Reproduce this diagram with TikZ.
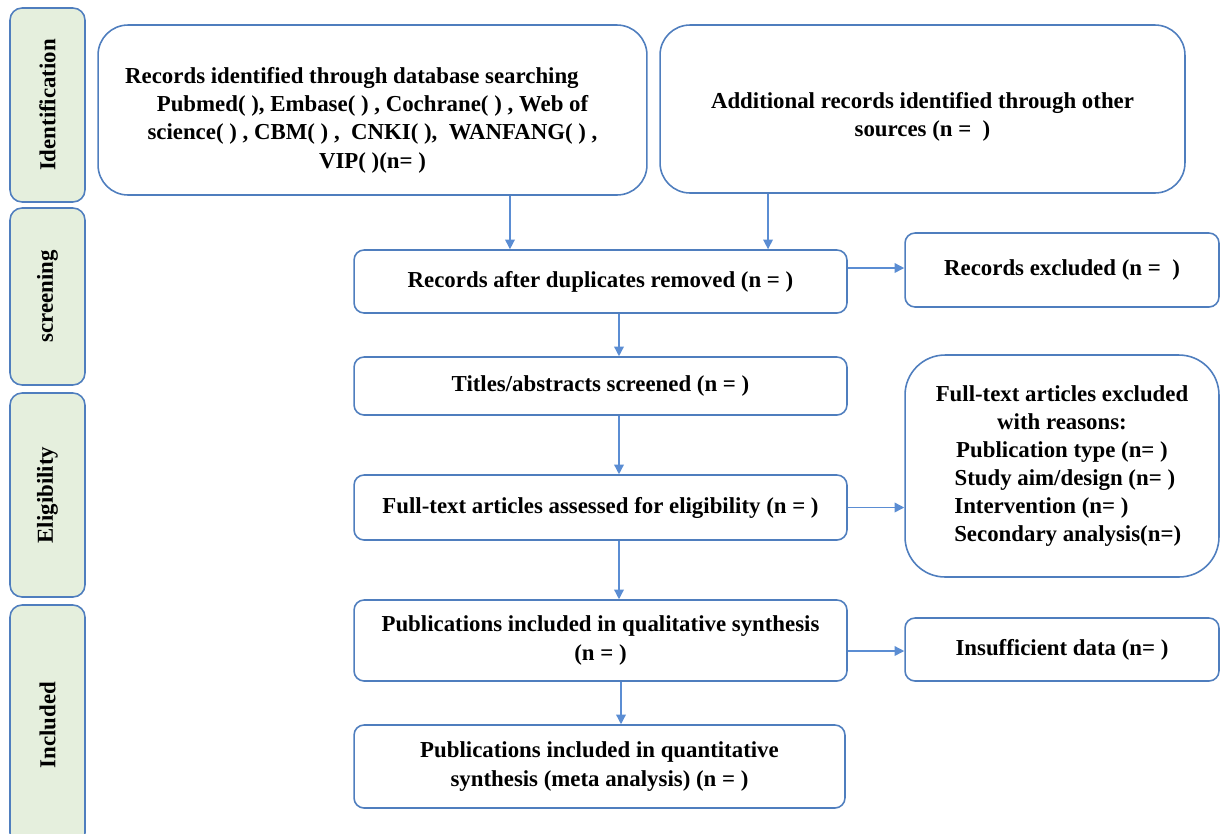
\documentclass[tikz,border=0pt]{standalone}
\usepackage{fontspec}
\setmainfont{Liberation Serif}
\usetikzlibrary{arrows.meta}
\definecolor{boxblue}{HTML}{4F7EBE}
\definecolor{arrblue}{HTML}{5B8DD3}
\definecolor{phasegreen}{HTML}{E5EFDD}

\begin{document}
\begin{tikzpicture}[x=0.02cm,y=-0.02cm,
  every node/.style={font=\fontsize{13}{16}\selectfont\bfseries,align=center,inner sep=0pt},
  phase/.style={draw=boxblue,line width=0.9pt,fill=phasegreen,rounded corners=0.24cm,minimum height=1.5cm,rotate=90},
  box/.style={draw=boxblue,line width=0.9pt,rounded corners=0.2cm},
  bigbox/.style={box,rounded corners=0.6cm},
  arr/.style={draw=arrblue,line width=0.8pt,-{Triangle[length=5.5pt,width=5.5pt]}}]
\useasboundingbox (0,0) rectangle (1220,833);
% phases
\node[phase,minimum width=3.88cm] (ident) at (47.5,105) {Identification};
\node[phase,minimum width=3.54cm] (screen) at (47.5,296.5) {screening};
\node[phase,minimum width=4.08cm] (elig) at (47.5,495) {Eligibility};
\node[phase,minimum width=4.8cm] (incl) at (47.5,725) {Included};
% records
\node[bigbox,minimum width=10.98cm,minimum height=3.4cm] (db) at (372.5,110)
  {\rule{0pt}{1.6em}Records identified through database searching\hspace{1.8em}\mbox{}\\
   Pubmed( ), Embase( ) , Cochrane( ) , Web of\\
   science( ) , CBM( ) ,\ \ CNKI( ),\ \ WANFANG( ) ,\\
   VIP( )(n= )};
\node[bigbox,minimum width=10.5cm,minimum height=3.36cm] (other) at (922.5,109)
  {\rule{0pt}{1.4em}Additional records identified through other\\ sources (n = \ )};
\node[box,minimum width=9.86cm,minimum height=1.26cm] (dup) at (600.5,281.5)
  {Records after duplicates removed (n = )};
\node[box,minimum width=6.28cm,minimum height=1.48cm] (excl) at (1062,270)
  {Records excluded (n = \ )};
\node[box,minimum width=9.86cm,minimum height=1.16cm] (titles) at (600.5,386)
  {Titles/abstracts screened (n = )};
\node[box,minimum width=9.86cm,minimum height=1.3cm] (full) at (600.5,507.5)
  {Full-text articles assessed for eligibility (n = )};
\node[box,rounded corners=0.8cm,minimum width=6.28cm,minimum height=4.44cm] (ftexcl) at (1062,466)
  {Full-text articles excluded\\ with reasons:\\ Publication type (n= )\\
   \ Study aim/design (n= )\\ Intervention (n= )\hspace{1.8em}\mbox{}\\ \ \ Secondary analysis(n=)};
\node[box,minimum width=9.86cm,minimum height=1.62cm] (qual) at (600.5,640.5)
  {Publications included in qualitative synthesis\\ (n = )};
\node[box,minimum width=6.28cm,minimum height=1.26cm] (insuff) at (1062,649.5)
  {Insufficient data (n= )};
\node[box,minimum width=9.82cm,minimum height=1.66cm] (quant) at (599.5,766.5)
  {Publications included in quantitative\\ synthesis (meta analysis) (n = )};
% arrows
\draw[arr] ([xshift=2.75cm]db.south) -- ([xshift=2.75cm]db.south |- dup.north);
\draw[arr] ([xshift=-3.09cm]other.south) -- ([xshift=-3.09cm]other.south |- dup.north);
\draw[arr] ([yshift=0.27cm]dup.east) -- ([yshift=0.27cm]dup.east -| excl.west);
\draw[arr] ([xshift=0.37cm]dup.south) -- ([xshift=0.37cm]dup.south |- titles.north);
\draw[arr] ([xshift=0.37cm]titles.south) -- ([xshift=0.37cm]titles.south |- full.north);
\draw[arr] (full.east) -- (full.east -| ftexcl.west);
\draw[arr] ([xshift=0.37cm]full.south) -- ([xshift=0.37cm]full.south |- qual.north);
\draw[arr] ([yshift=-0.21cm]qual.east) -- ([yshift=-0.21cm]qual.east -| insuff.west);
\draw[arr] ([xshift=0.41cm]qual.south) -- ([xshift=0.41cm]qual.south |- quant.north);
\end{tikzpicture}
\end{document}
